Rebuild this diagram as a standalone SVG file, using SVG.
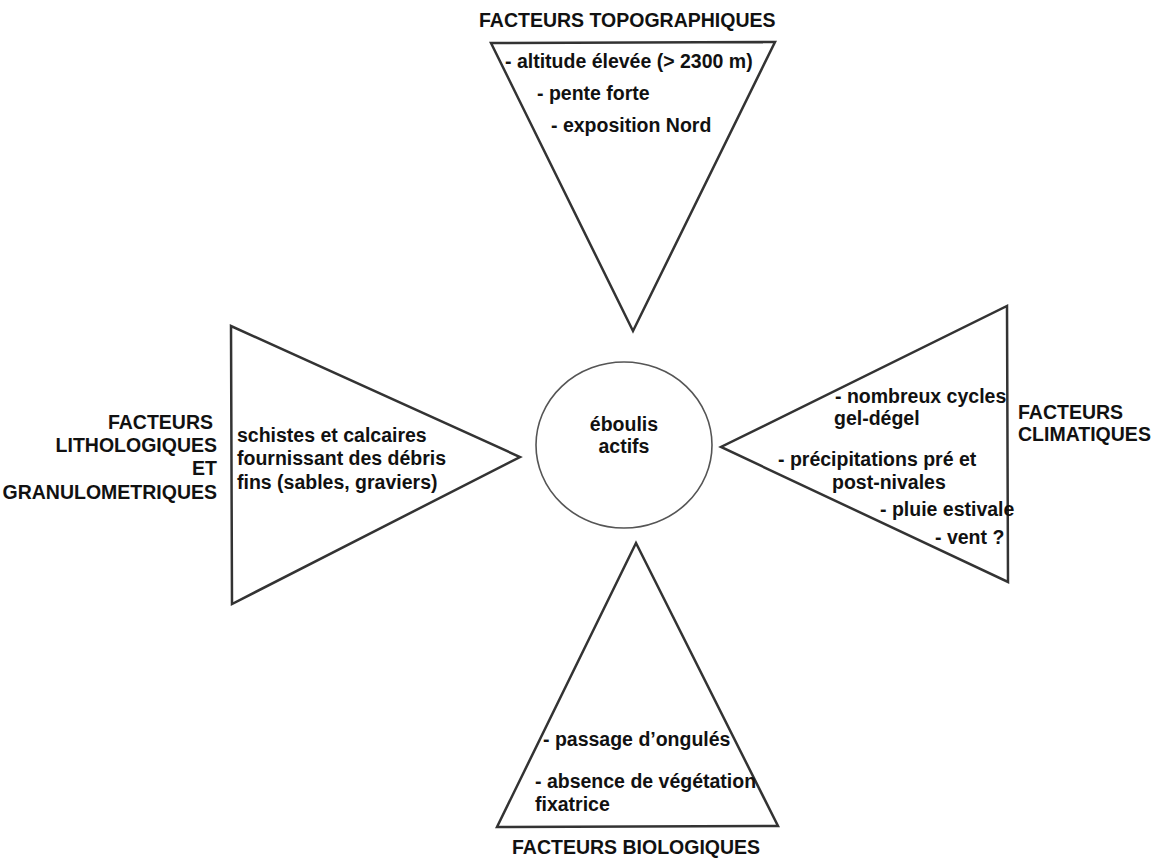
<svg xmlns="http://www.w3.org/2000/svg" width="1156" height="858" viewBox="0 0 1156 858">
<style>
.tri{fill:none;stroke:#333;stroke-width:2.5;stroke-linejoin:miter}
.circ{fill:none;stroke:#555;stroke-width:1.6}
text{font-family:"Liberation Sans",Arial,sans-serif;font-weight:bold;font-size:19.5px;fill:#111}
.end{text-anchor:end}
.mid{text-anchor:middle}
</style>
<rect width="1156" height="858" fill="#fff"/>
<g id="node-top">
<polygon class="tri" points="491,43 775,42 633,331"/>
<text x="479" y="27">FACTEURS TOPOGRAPHIQUES</text>
<text x="505" y="68">- altitude élevée (&gt; 2300 m)</text>
<text x="537" y="100">- pente forte</text>
<text x="551" y="132">- exposition Nord</text>
</g>
<g id="node-left">
<polygon class="tri" points="231,326 232,604 520,457"/>
<text class="end" x="213" y="429">FACTEURS</text>
<text class="end" x="217" y="452">LITHOLOGIQUES</text>
<text class="end" x="217" y="475">ET</text>
<text class="end" x="217" y="499">GRANULOMETRIQUES</text>
<text x="237" y="442">schistes et calcaires</text>
<text x="237" y="465">fournissant des débris</text>
<text x="237" y="489">fins (sables, graviers)</text>
</g>
<g id="node-right">
<polygon class="tri" points="1007,306 1008,582 721,447"/>
<text x="835" y="403">- nombreux cycles</text>
<text x="834" y="425">gel-dégel</text>
<text x="778" y="466">- précipitations pré et</text>
<text x="832" y="489">post-nivales</text>
<text x="880" y="516">- pluie estivale</text>
<text x="935" y="544">- vent ?</text>
<text x="1018" y="419">FACTEURS</text>
<text x="1018" y="441">CLIMATIQUES</text>
</g>
<g id="node-bottom">
<polygon class="tri" points="636,543 778,826 497,827"/>
<text x="543" y="746">- passage d’ongulés</text>
<text x="535" y="788">- absence de végétation</text>
<text x="535" y="811">fixatrice</text>
<text x="512" y="854">FACTEURS BIOLOGIQUES</text>
</g>
<g id="node-center">
<ellipse class="circ" cx="624" cy="445" rx="88" ry="83"/>
<text class="mid" x="624" y="431">éboulis</text>
<text class="mid" x="624" y="453">actifs</text>
</g>
<g id="connectors"></g>
</svg>
